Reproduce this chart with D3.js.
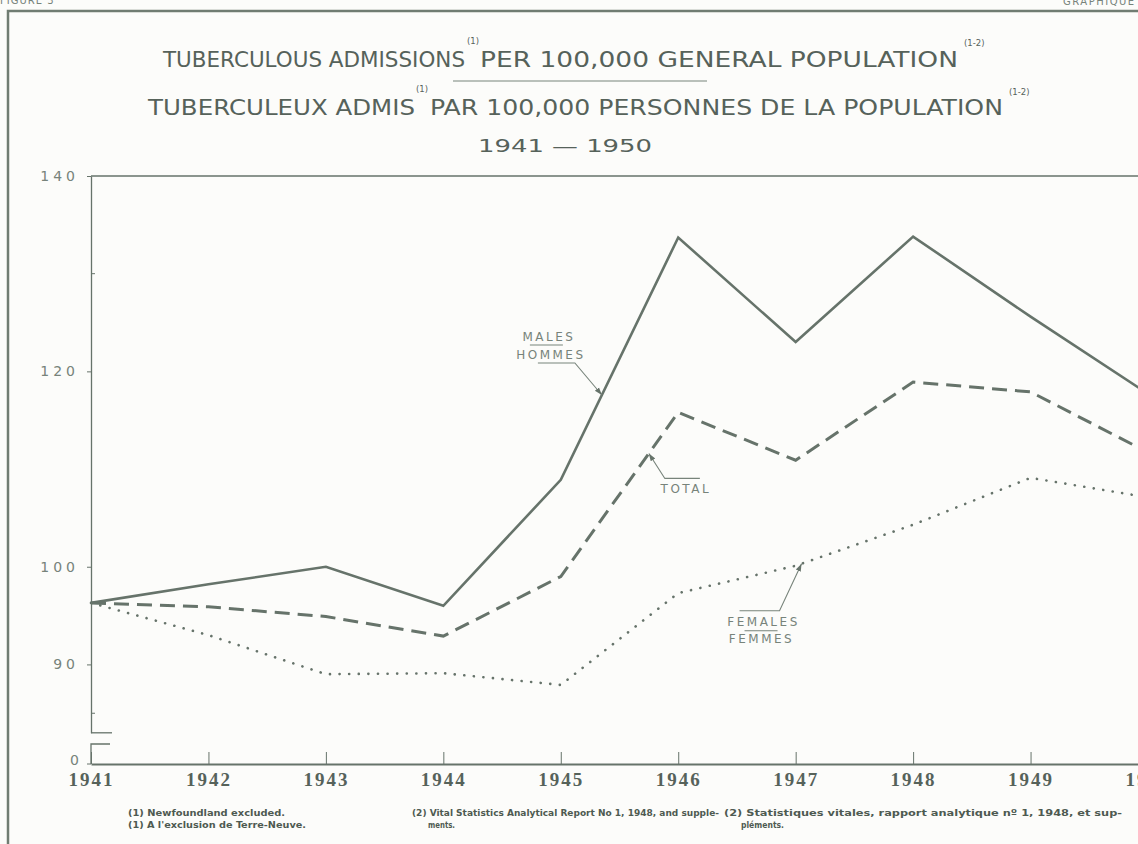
<!DOCTYPE html>
<html>
<head>
<meta charset="utf-8">
<script src="https://cdn.jsdelivr.net/npm/d3@7"></script>
<style>
  html, body { margin: 0; padding: 0; background: #fcfcfa; }
  svg { display: block; }
</style>
</head>
<body>
<div id="chart"></div>
<script>
// values
const years = [1941, 1942, 1943, 1944, 1945, 1946, 1947, 1948, 1949, 1950]
const males = [96.3, 98.2, 100.0, 96.0, 108.9, 133.7, 123.0, 133.8, 125.6, 117.7]
const total = [96.3, 95.9, 94.9, 92.9, 99.0, 115.8, 110.9, 118.9, 117.9, 111.7]
const females = [96.3, 93.0, 89.0, 89.1, 87.9, 97.3, 100.1, 104.3, 109.1, 107.1]

const yTickLabels = [90, 100, 120, 140]
const yMinorTicks = [85, 130]
const yBreak = 83

const titleEn = 'TUBERCULOUS ADMISSIONS'
const titleEn2 = 'PER 100,000 GENERAL POPULATION'
const titleFr = 'TUBERCULEUX ADMIS'
const titleFr2 = 'PAR 100,000 PERSONNES DE LA POPULATION'
const subTitle = '1941 — 1950'

const ink = '#66736a'
const textInk = '#56625a'
const lightInk = '#77837a'

const width = 1138, height = 844

const svg = d3.select('#chart').append('svg')
  .attr('width', width)
  .attr('height', height)

svg.append('rect').attr('width', width).attr('height', height).attr('fill', '#fcfcfa')

// page frame (scan edges)
svg.append('path')
  .attr('d', `M8,${height} L8,11 L${width},11`)
  .attr('fill', 'none').attr('stroke', '#707c72').attr('stroke-width', 2.5)

svg.append('text').attr('x', 0).attr('y', 4)
  .attr('font-family', 'DejaVu Sans').attr('font-size', 10).attr('fill', lightInk)
  .attr('letter-spacing', 1).text('FIGURE 3')
svg.append('text').attr('x', 1063).attr('y', 5)
  .attr('font-family', 'DejaVu Sans').attr('font-size', 10).attr('fill', lightInk)
  .attr('letter-spacing', 1.5).text('GRAPHIQUE 3')

// titles
const titleFont = 'DejaVu Sans'
function title(txt, x0, x1, yb, size) {
  svg.append('text')
    .attr('x', x0).attr('y', yb)
    .attr('font-family', titleFont).attr('font-size', size)
    .attr('fill', textInk)
    .attr('textLength', x1 - x0).attr('lengthAdjust', 'spacingAndGlyphs')
    .text(txt)
}
function sup(txt, x, yb) {
  svg.append('text')
    .attr('x', x).attr('y', yb)
    .attr('font-family', titleFont).attr('font-size', 8.5)
    .attr('fill', textInk)
    .text(txt)
}
title(titleEn, 163, 465, 67, 22)
sup('(1)', 467, 44)
title(titleEn2, 480, 958, 67, 22)
sup('(1-2)', 964, 46)

svg.append('line')
  .attr('x1', 453).attr('x2', 707).attr('y1', 81).attr('y2', 81)
  .attr('stroke', lightInk).attr('stroke-width', 1.2)

title(titleFr, 148, 415, 115, 22)
sup('(1)', 416, 92)
title(titleFr2, 430, 1003, 115, 22)
sup('(1-2)', 1009, 95)

title(subTitle, 478, 652, 152, 17)

// scales
const x = d3.scaleLinear().domain([1941, 1950]).range([91, 1148])
const y = d3.scaleLinear().domain([yBreak, 140]).range([732.8, 176])
const y0 = 764

const g = svg.append('g')

// top frame line at 140
g.append('line')
  .attr('x1', x(1941)).attr('x2', width)
  .attr('y1', y(140)).attr('y2', y(140))
  .attr('stroke', ink).attr('stroke-width', 1.3)

// y axis (upper segment)
const yAxis = g.append('g')
  .attr('transform', `translate(${x(1941)},0)`)
  .call(d3.axisLeft(y).tickValues(yTickLabels).tickSize(4).tickSizeOuter(0).tickPadding(8)
    .tickFormat(d3.format('d')))
yAxis.select('.domain').attr('stroke', ink).attr('stroke-width', 1.3)
yAxis.selectAll('.tick line').attr('stroke', ink)
yAxis.selectAll('.tick text')
  .attr('font-family', 'DejaVu Sans').attr('font-size', 14)
  .attr('letter-spacing', 4).attr('fill', lightInk)

g.append('g').selectAll('line')
  .data(yMinorTicks)
  .join('line')
  .attr('x1', x(1941)).attr('x2', x(1941) + 4)
  .attr('y1', (d) => y(d)).attr('y2', (d) => y(d))
  .attr('stroke', ink)

// axis break
g.append('path')
  .attr('d', `M${x(1941) + 21},${y(yBreak)} H${x(1941)}`)
  .attr('fill', 'none').attr('stroke', ink).attr('stroke-width', 1.3)
g.append('path')
  .attr('d', `M${x(1941) + 19},744 H${x(1941)} V${y0}`)
  .attr('fill', 'none').attr('stroke', ink).attr('stroke-width', 1.3)
g.append('line')
  .attr('x1', x(1941) - 4).attr('x2', x(1941))
  .attr('y1', y0).attr('y2', y0).attr('stroke', ink)
g.append('text')
  .attr('x', x(1941) - 12).attr('y', y0 - 3)
  .attr('dy', '0.32em').attr('text-anchor', 'end')
  .attr('font-family', 'DejaVu Sans').attr('font-size', 14).attr('fill', lightInk)
  .text('0')

// x axis
const xAxis = g.append('g')
  .attr('transform', `translate(0,${y0})`)
  .call(d3.axisBottom(x).tickValues(years).tickSize(-12).tickSizeOuter(0).tickPadding(9)
    .tickFormat(d3.format('d')))
xAxis.select('.domain').attr('stroke', ink).attr('stroke-width', 2)
xAxis.selectAll('.tick line').attr('stroke', ink)
xAxis.selectAll('.tick text')
  .attr('font-family', 'Liberation Serif').attr('font-size', 19)
  .attr('font-weight', 'bold')
  .attr('letter-spacing', 2).attr('fill', '#56625a')

// series
const line = d3.line().x((d, i) => x(years[i])).y((d) => y(d))

g.append('path').datum(males)
  .attr('d', line).attr('fill', 'none')
  .attr('stroke', ink).attr('stroke-width', 2.6).attr('stroke-linejoin', 'miter')

g.append('path').datum(total)
  .attr('d', line).attr('fill', 'none')
  .attr('stroke', ink).attr('stroke-width', 3)
  .attr('stroke-dasharray', '15,8')

g.append('path').datum(females)
  .attr('d', line).attr('fill', 'none')
  .attr('stroke', ink).attr('stroke-width', 2.6)
  .attr('stroke-linecap', 'round')
  .attr('stroke-dasharray', '0.1,9.5')

// annotations
const interp = (series, yr) => {
  const i = Math.min(Math.floor(yr - 1941), series.length - 2)
  const t = yr - 1941 - i
  return series[i] + (series[i + 1] - series[i]) * t
}

svg.append('defs').append('marker')
  .attr('id', 'arrow').attr('viewBox', '0 0 10 10')
  .attr('refX', 10).attr('refY', 5)
  .attr('markerWidth', 7).attr('markerHeight', 7)
  .attr('orient', 'auto-start-reverse')
  .append('path').attr('d', 'M0,1.5 L10,5 L0,8.5 Z').attr('fill', ink)

const notes = [
  { series: males, year: 1945.35, elbow: [-27, -32], rule: [-27, -64],
    lines: [{ t: 'MALES', dx: -53, dy: -54 }, { t: 'HOMMES', dx: -51, dy: -36 }],
    mid: [-72, -39, -50] },
  { series: total, year: 1945.75, elbow: [16, 25], rule: [16, 51],
    lines: [{ t: 'TOTAL', dx: 37, dy: 40 }], mid: null },
  { series: females, year: 1947.05, elbow: [-22, 47], rule: [-22, -62],
    lines: [{ t: 'FEMALES', dx: -38, dy: 62 }, { t: 'FEMMES', dx: -40, dy: 79 }],
    mid: [-57, -24, 67] }
]

notes.forEach((n) => {
  const tx = x(n.year), ty = y(interp(n.series, n.year))
  const ex = tx + n.elbow[0], ey = ty + n.elbow[1]
  g.append('path')
    .attr('d', `M${tx + n.rule[1]},${ey} H${ex} L${tx},${ty}`)
    .attr('fill', 'none').attr('stroke', lightInk).attr('stroke-width', 1.1)
    .attr('marker-end', 'url(#arrow)')
  if (n.mid) {
    g.append('line')
      .attr('x1', tx + n.mid[0]).attr('x2', tx + n.mid[1])
      .attr('y1', ty + n.mid[2]).attr('y2', ty + n.mid[2])
      .attr('stroke', lightInk).attr('stroke-width', 1.1)
  }
  n.lines.forEach((l) => {
    g.append('text')
      .attr('x', tx + l.dx).attr('y', ty + l.dy)
      .attr('text-anchor', 'middle')
      .attr('font-family', 'DejaVu Sans').attr('font-size', 12)
      .attr('letter-spacing', 2.5).attr('fill', lightInk)
      .text(l.t)
  })
})

// footnotes
const foot = [
  { t: '(1)  Newfoundland excluded.', x0: 128, x1: 285, yb: 816 },
  { t: "(1)  A l'exclusion de Terre-Neuve.", x0: 128, x1: 306, yb: 828 },
  { t: '(2)  Vital Statistics Analytical Report No 1, 1948, and supple-', x0: 412, x1: 719, yb: 816 },
  { t: 'ments.', x0: 428, x1: 455, yb: 828 },
  { t: '(2)  Statistiques vitales, rapport analytique nº 1, 1948, et sup-', x0: 724, x1: 1122, yb: 816 },
  { t: 'pléments.', x0: 741, x1: 784, yb: 828 }
]
svg.append('g').selectAll('text')
  .data(foot)
  .join('text')
  .attr('x', (d) => d.x0).attr('y', (d) => d.yb)
  .attr('textLength', (d) => d.x1 - d.x0).attr('lengthAdjust', 'spacingAndGlyphs')
  .attr('font-family', 'DejaVu Sans Condensed, DejaVu Sans').attr('font-weight', 'bold')
  .attr('font-size', 9).attr('fill', '#4e5a51')
  .text((d) => d.t)
</script>
</body>
</html>
